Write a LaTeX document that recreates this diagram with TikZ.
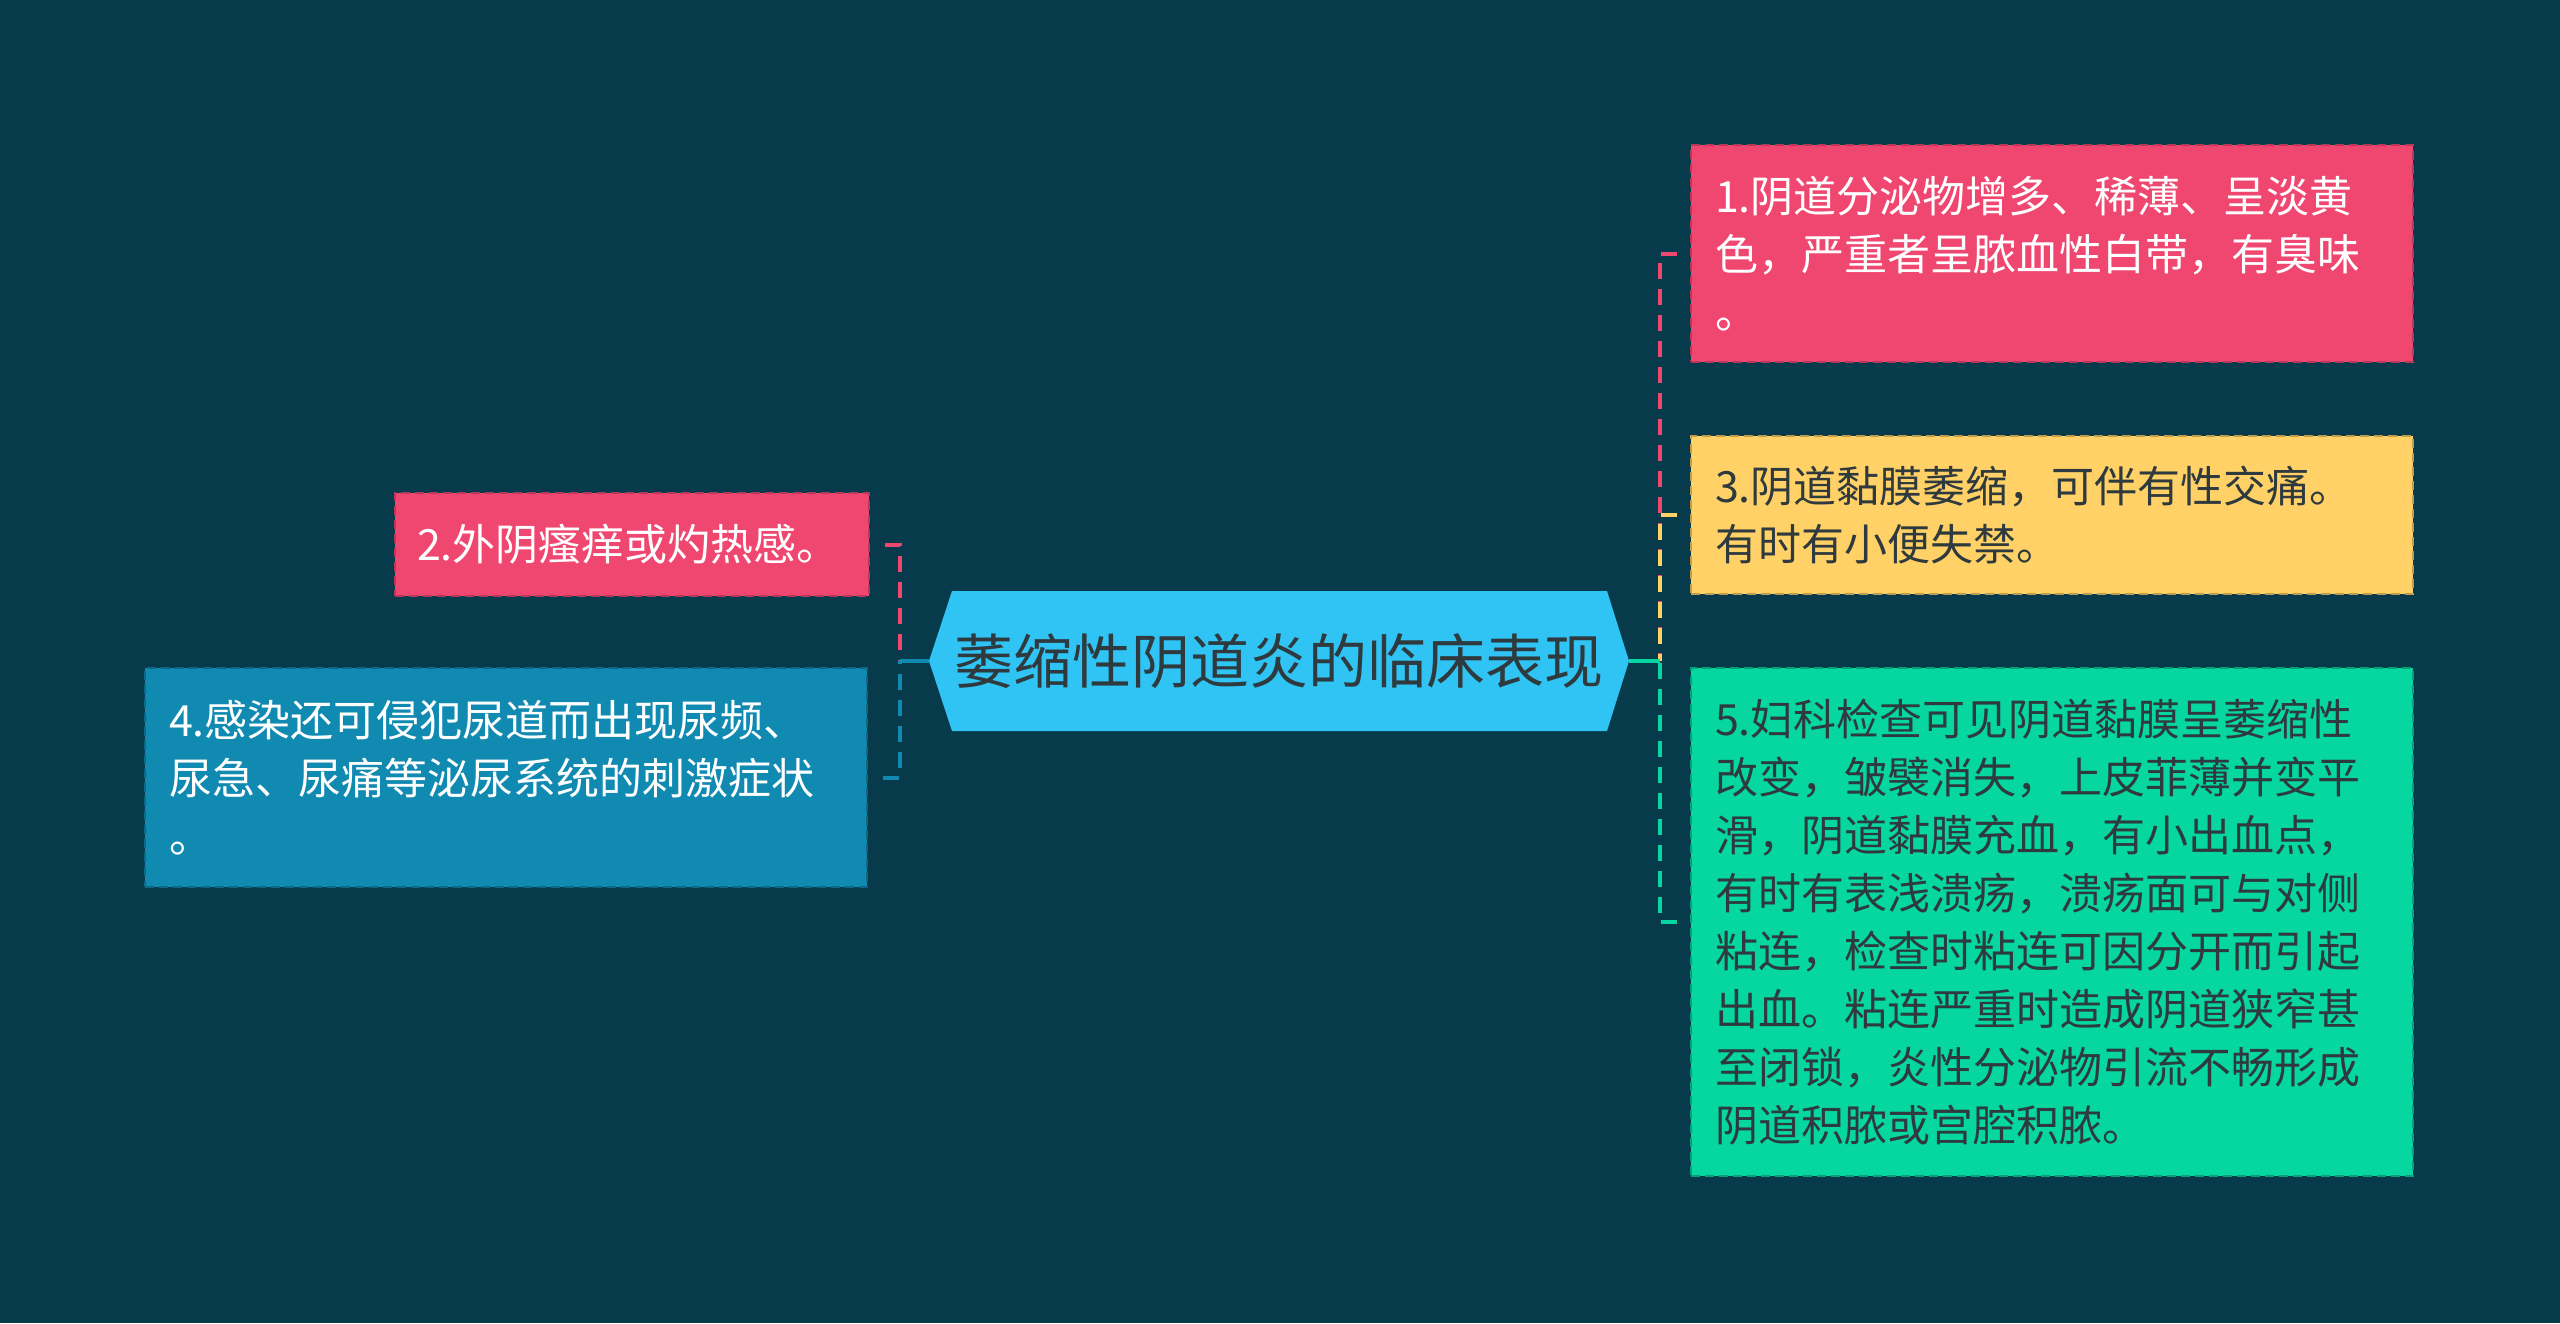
\documentclass[tikz,border=0pt]{standalone}
\usepackage{fontspec}
\setmainfont{Noto Sans CJK SC}
\definecolor{cbg}{HTML}{073B4C}
\definecolor{cpink}{HTML}{EF476F}
\definecolor{cyellow}{HTML}{FFD166}
\definecolor{cgreen}{HTML}{06D6A0}
\definecolor{cblue}{HTML}{118AB2}
\definecolor{ccentral}{HTML}{30C4F4}
\definecolor{cdark}{HTML}{2E3A3E}
\begin{document}
\begin{tikzpicture}[x=1pt,y=-1pt,
  box/.style={rectangle, inner xsep=24pt, inner ysep=0pt, align=left,
    font=\fontsize{43}{58}\selectfont, line width=2.5pt, dash pattern=on 9pt off 5pt},
  conn/.style={line width=4pt, dash pattern=on 16pt off 10pt},
  stub/.style={line width=4pt}]
\useasboundingbox (0,0) rectangle (2560,1323);
\fill[cbg] (0,0) rectangle (2560,1323);

% central hexagon
\fill[ccentral] (929,661) -- (952,591) -- (1607,591) -- (1629,661) -- (1607,731) -- (952,731) -- cycle;
\node[minimum width=700pt, minimum height=140pt, inner sep=0pt,
  font=\fontsize{59}{66}\selectfont, text=cdark] (c) at (1279,661) {萎缩性阴道炎的临床表现};

% right boxes
\node[box, fill=cpink, draw=cpink!78!black, text=white, minimum width=722pt,
  minimum height=217pt, text width=674pt] (b1) at (2052,253.5)
  {1.阴道分泌物增多、稀薄、呈淡黄\\色，严重者呈脓血性白带，有臭味\\。};
\node[box, fill=cyellow, draw=cyellow!75!black, text=cdark, minimum width=722pt,
  minimum height=158pt, text width=674pt] (b3) at (2052,515)
  {3.阴道黏膜萎缩，可伴有性交痛。\\有时有小便失禁。};
\node[box, fill=cgreen, draw=cgreen!75!black, text=cdark, minimum width=722pt,
  minimum height=508pt, text width=674pt] (b5) at (2052,922)
  {5.妇科检查可见阴道黏膜呈萎缩性\\改变，皱襞消失，上皮菲薄并变平\\滑，阴道黏膜充血，有小出血点，\\有时有表浅溃疡，溃疡面可与对侧\\粘连，检查时粘连可因分开而引起\\出血。粘连严重时造成阴道狭窄甚\\至闭锁，炎性分泌物引流不畅形成\\阴道积脓或宫腔积脓。};

% left boxes
\node[box, fill=cpink, draw=cpink!78!black, text=white, minimum width=474pt,
  minimum height=103pt, text width=430pt, inner xsep=22pt] (b2) at (632,544.5)
  {2.外阴瘙痒或灼热感。};
\node[box, fill=cblue, draw=cblue!75!black, text=white, minimum width=722pt,
  minimum height=219pt, text width=674pt] (b4) at (506,777.5)
  {4.感染还可侵犯尿道而出现尿频、\\尿急、尿痛等泌尿系统的刺激症状\\。};

% connectors
\coordinate (jr) at (1660,661);
\coordinate (jl) at (900,661);
\coordinate (e1) at ([xshift=-13pt]b1.west);
\coordinate (e3) at ([xshift=-13pt]b3.west);
\coordinate (e5) at ([xshift=-13pt]b5.west);
\coordinate (e2) at ([xshift=15pt]b2.east);
\coordinate (e4) at ([xshift=15pt]b4.east);

\draw[conn, cpink] (e1) -| (jr);
\draw[conn, cyellow] (e3) -| (jr);
\draw[conn, cgreen] (e5) -| (jr);
\draw[stub, cgreen] (c.east) -- (jr);

\draw[conn, cpink] (e2) -| (jl);
\draw[conn, cblue] (e4) -| (jl);
\draw[stub, cblue] (c.west) -- (jl);
\end{tikzpicture}
\end{document}
